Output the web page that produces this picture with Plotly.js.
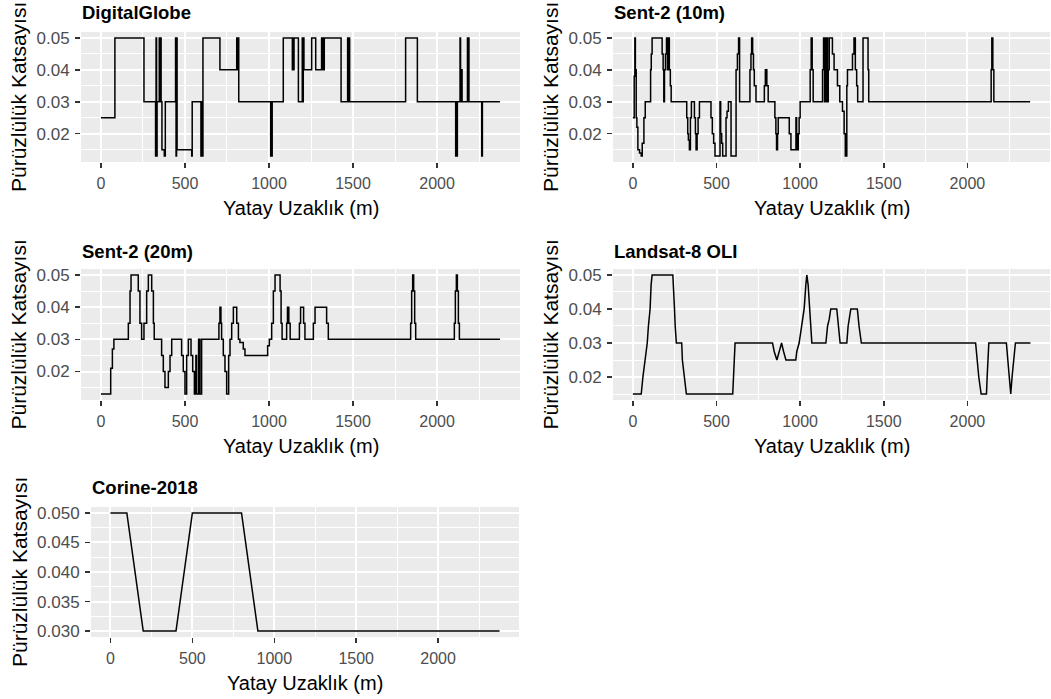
<!DOCTYPE html>
<html>
<head>
<meta charset="utf-8">
<script src="https://cdn.plot.ly/plotly-3.0.1.min.js"></script>
<style>
  html, body { margin: 0; padding: 0; background: #ffffff; }
  #chart { width: 1051px; height: 699px; }
</style>
</head>
<body>
<div id="chart"></div>
<script>
// ---------------- DATA ----------------
const panelTitles = ["DigitalGlobe", "Sent-2 (10m)", "Sent-2 (20m)", "Landsat-8 OLI", "Corine-2018"];
const xAxisTitle = "Yatay Uzaklık (m)";
const yAxisTitle = "Pürüzlülük Katsayısı";

// DigitalGlobe (step profile)
const dgDist = [0, 83, 256, 325, 328, 331, 334, 347, 350, 353, 358, 363, 377, 383,
  444, 447, 450, 453, 540, 543, 595, 599, 603, 607, 708, 808, 811, 814, 820,
  1010, 1013, 1016, 1019, 1085, 1139, 1142, 1145, 1149, 1175, 1198, 1201, 1204, 1208,
  1254, 1278, 1313, 1317, 1321, 1325, 1329, 1429, 1468, 1472, 1476, 1480,
  1813, 1883, 2111, 2114, 2117, 2121, 2137, 2140, 2143, 2146, 2149,
  2181, 2184, 2187, 2190, 2266, 2270, 2375];
const dgN = [0.025, 0.05, 0.03, 0.013, 0.05, 0.013, 0.03, 0.05, 0.03, 0.05, 0.03, 0.015, 0.013, 0.03,
  0.05, 0.013, 0.05, 0.015, 0.013, 0.03, 0.013, 0.03, 0.013, 0.05, 0.04, 0.05, 0.04, 0.05, 0.03,
  0.013, 0.03, 0.013, 0.03, 0.05, 0.04, 0.05, 0.04, 0.05, 0.03, 0.05, 0.03, 0.05, 0.04,
  0.05, 0.04, 0.05, 0.04, 0.05, 0.04, 0.05, 0.03, 0.05, 0.03, 0.05, 0.03,
  0.05, 0.03, 0.013, 0.03, 0.013, 0.03, 0.05, 0.04, 0.03, 0.04, 0.03,
  0.05, 0.03, 0.05, 0.03, 0.013, 0.03, 0.03];

// Sentinel-2 10 m
const s10Dist = [0, 8, 12, 15, 20, 24, 30, 40, 50, 56, 66, 74, 106, 110, 115,
  175, 181, 185, 189, 195, 201, 207, 212, 218, 224, 229,
  322, 328, 332, 338, 344, 350, 368, 374, 378, 384, 390, 398,
  467, 475, 483, 491, 521, 525, 531, 537, 557, 563, 571, 587,
  617, 625, 632, 638, 700, 706, 710, 716, 721, 726, 736,
  786, 792, 801, 809, 849, 855, 859, 865, 869, 935, 945, 975, 979, 983, 989, 994, 1000,
  1060, 1066, 1072, 1078, 1134, 1140, 1146, 1150, 1154, 1160, 1164, 1168, 1174,
  1193, 1203, 1223, 1237, 1253, 1263, 1270, 1279, 1283, 1313, 1322, 1330, 1338, 1344,
  1376, 1406, 1410, 2142, 2146, 2152, 2158, 2375];
const s10N = [0.025, 0.038, 0.05, 0.04, 0.025, 0.022, 0.015, 0.014, 0.013, 0.017, 0.025, 0.03, 0.04, 0.045, 0.05,
  0.045, 0.04, 0.03, 0.04, 0.045, 0.05, 0.04, 0.05, 0.04, 0.035, 0.03,
  0.025, 0.02, 0.018, 0.015, 0.025, 0.03, 0.025, 0.02, 0.015, 0.02, 0.025, 0.03,
  0.025, 0.02, 0.017, 0.013, 0.03, 0.02, 0.017, 0.013, 0.025, 0.027, 0.03, 0.013,
  0.04, 0.045, 0.05, 0.03, 0.04, 0.045, 0.05, 0.045, 0.04, 0.035, 0.03,
  0.035, 0.04, 0.035, 0.03, 0.025, 0.02, 0.015, 0.02, 0.025, 0.02, 0.015, 0.025, 0.02, 0.015, 0.02, 0.025, 0.03,
  0.04, 0.05, 0.04, 0.03, 0.04, 0.05, 0.03, 0.05, 0.03, 0.05, 0.03, 0.04, 0.05,
  0.045, 0.04, 0.035, 0.03, 0.027, 0.02, 0.013, 0.035, 0.04, 0.045, 0.05, 0.04, 0.035, 0.03,
  0.05, 0.04, 0.03, 0.04, 0.05, 0.04, 0.03, 0.03];

// Sentinel-2 20 m
const s20Dist = [0, 58, 68, 77, 163, 173, 179, 222, 232, 242, 256, 272, 282, 302, 312, 317,
  361, 371, 381, 401, 411, 421, 480, 490, 500, 510, 520, 536, 546, 556, 565, 569, 581, 589, 599,
  702, 708, 714, 718, 728, 738, 748, 760, 768, 778, 788, 808, 818, 827, 847, 857,
  992, 1002, 1016, 1026, 1036, 1066, 1072, 1078, 1105, 1110, 1118, 1126,
  1181, 1188, 1206, 1214, 1264, 1274, 1343, 1353,
  1843, 1849, 1855, 1861, 1867, 1873, 2103, 2109, 2115, 2121, 2127, 2133, 2375];
const s20N = [0.013, 0.021, 0.027, 0.03, 0.035, 0.045, 0.05, 0.045, 0.035, 0.03, 0.035, 0.045, 0.05, 0.045, 0.035, 0.03,
  0.025, 0.02, 0.015, 0.02, 0.025, 0.03, 0.025, 0.02, 0.013, 0.025, 0.03, 0.025, 0.02, 0.013, 0.025, 0.013, 0.03, 0.013, 0.03,
  0.035, 0.04, 0.035, 0.03, 0.025, 0.02, 0.013, 0.025, 0.03, 0.035, 0.04, 0.035, 0.03, 0.029, 0.027, 0.025,
  0.028, 0.03, 0.035, 0.045, 0.05, 0.045, 0.035, 0.03, 0.035, 0.04, 0.035, 0.03,
  0.035, 0.04, 0.035, 0.03, 0.035, 0.04, 0.035, 0.03,
  0.035, 0.045, 0.05, 0.045, 0.035, 0.03, 0.035, 0.045, 0.05, 0.045, 0.035, 0.03, 0.03];

// Landsat-8 OLI
const lsDist = [0, 50, 60, 74, 86, 93, 103, 109, 115, 239, 243, 249, 253, 260, 292, 296, 308, 320,
  597, 604, 611, 835, 845, 861, 875, 889, 901, 915, 974, 980, 994, 1008, 1024, 1034, 1040, 1048, 1058, 1064, 1070,
  1154, 1164, 1174, 1183, 1219, 1227, 1239, 1279, 1287, 1303, 1342, 1352, 1366,
  2049, 2058, 2068, 2082, 2114, 2118, 2128, 2233, 2241, 2251, 2259, 2267, 2277, 2287, 2377];
const lsN = [0.015, 0.015, 0.02, 0.025, 0.03, 0.035, 0.04, 0.047, 0.05, 0.05, 0.047, 0.04, 0.035, 0.03, 0.03, 0.025, 0.02, 0.015,
  0.015, 0.025, 0.03, 0.03, 0.0275, 0.025, 0.0275, 0.03, 0.0275, 0.025, 0.025, 0.0275, 0.03, 0.035, 0.04, 0.047, 0.05, 0.047, 0.04, 0.035, 0.03,
  0.03, 0.035, 0.037, 0.04, 0.04, 0.035, 0.03, 0.03, 0.035, 0.04, 0.04, 0.035, 0.03,
  0.03, 0.025, 0.02, 0.015, 0.015, 0.02, 0.03, 0.03, 0.025, 0.02, 0.015, 0.02, 0.025, 0.03, 0.03];

// Corine-2018
const crDist = [0, 100, 200, 400, 500, 800, 900, 2375];
const crN = [0.05, 0.05, 0.03, 0.03, 0.05, 0.05, 0.03, 0.03];

// ---------------- LAYOUT ----------------
const W = 1051, H = 699;
const fx = px => px / W;
const fy = py => 1 - py / H;
const FONT = "Liberation Sans, Arial, sans-serif";

// panel boxes in pixels
const boxes = [
  {l: 81, r: 520, t: 32, b: 162, titleY: 13},
  {l: 613, r: 1050, t: 32, b: 162, titleY: 13},
  {l: 81, r: 520, t: 269, b: 400, titleY: 251},
  {l: 613, r: 1050, t: 269, b: 400, titleY: 251},
  {l: 91, r: 519, t: 507, b: 637, titleY: 487}
];
const yRanges = [[0.01115, 0.05185], [0.01115, 0.05185], [0.01115, 0.05185], [0.01325, 0.05175], [0.029, 0.051]];
const yDticks = [0.01, 0.01, 0.01, 0.01, 0.005];
const yFormats = [".2f", ".2f", ".2f", ".2f", ".3f"];
const series = [[dgDist, dgN, "hv"], [s10Dist, s10N, "hv"], [s20Dist, s20N, "hv"], [lsDist, lsN, "linear"], [crDist, crN, "linear"]];

const traces = [];
const layout = {
  width: W, height: H,
  margin: {l: 0, r: 0, t: 0, b: 0, pad: 0},
  paper_bgcolor: "#FFFFFF",
  plot_bgcolor: "#EBEBEB",
  showlegend: false,
  font: {family: FONT, color: "#000000"},
  annotations: []
};

boxes.forEach((b, i) => {
  const k = i === 0 ? "" : String(i + 1);
  traces.push({
    x: series[i][0], y: series[i][1], type: "scatter", mode: "lines",
    line: {color: "#000000", width: 1.5, shape: series[i][2]},
    xaxis: "x" + k, yaxis: "y" + k, hoverinfo: "skip"
  });
  layout["xaxis" + k] = {
    domain: [fx(b.l), fx(b.r)], anchor: "y" + k, range: [-118.75, 2493.75],
    tickmode: "linear", tick0: 0, dtick: 500,
    ticks: "outside", ticklen: 5, tickwidth: 1.5, tickcolor: "#333333",
    tickfont: {family: FONT, size: 16, color: "#4D4D4D"}, ticklabelstandoff: 2,
    showgrid: true, gridcolor: "#FFFFFF", gridwidth: 2,
    minor: {tick0: 0, dtick: 250, showgrid: true, gridcolor: "#FFFFFF", gridwidth: 1, ticks: ""},
    zeroline: false, showline: false, fixedrange: true
  };
  layout["yaxis" + k] = {
    domain: [fy(b.b), fy(b.t)], anchor: "x" + k, range: yRanges[i],
    tickmode: "linear", tick0: 0, dtick: yDticks[i], tickformat: yFormats[i],
    ticks: "outside", ticklen: 5, tickwidth: 1.5, tickcolor: "#333333",
    tickfont: {family: FONT, size: 17, color: "#4D4D4D"}, ticklabelstandoff: 2,
    showgrid: true, gridcolor: "#FFFFFF", gridwidth: 2,
    minor: {tick0: 0, dtick: yDticks[i] / 2, showgrid: true, gridcolor: "#FFFFFF", gridwidth: 1, ticks: ""},
    zeroline: false, showline: false, fixedrange: true
  };
  // panel title
  layout.annotations.push({
    text: "<b>" + panelTitles[i] + "</b>", xref: "paper", yref: "paper",
    x: fx(b.l - 1), y: fy(b.titleY), xanchor: "left", yanchor: "middle",
    showarrow: false, font: {family: FONT, size: 18.5, color: "#000000"}
  });
  // x axis title
  layout.annotations.push({
    text: xAxisTitle, xref: "paper", yref: "paper",
    x: fx((b.l + b.r) / 2), y: fy(b.b + 46), xanchor: "center", yanchor: "middle",
    showarrow: false, font: {family: FONT, size: 20, color: "#000000"}
  });
  // y axis title
  layout.annotations.push({
    text: yAxisTitle, xref: "paper", yref: "paper", textangle: -90,
    x: fx(b.l - 63 - (i === 4 ? 9 : 0)), y: fy((b.t + b.b) / 2), xanchor: "center", yanchor: "middle",
    showarrow: false, font: {family: FONT, size: 21, color: "#000000"}
  });
});

Plotly.newPlot("chart", traces, layout, {staticPlot: true, displayModeBar: false});
</script>
</body>
</html>
